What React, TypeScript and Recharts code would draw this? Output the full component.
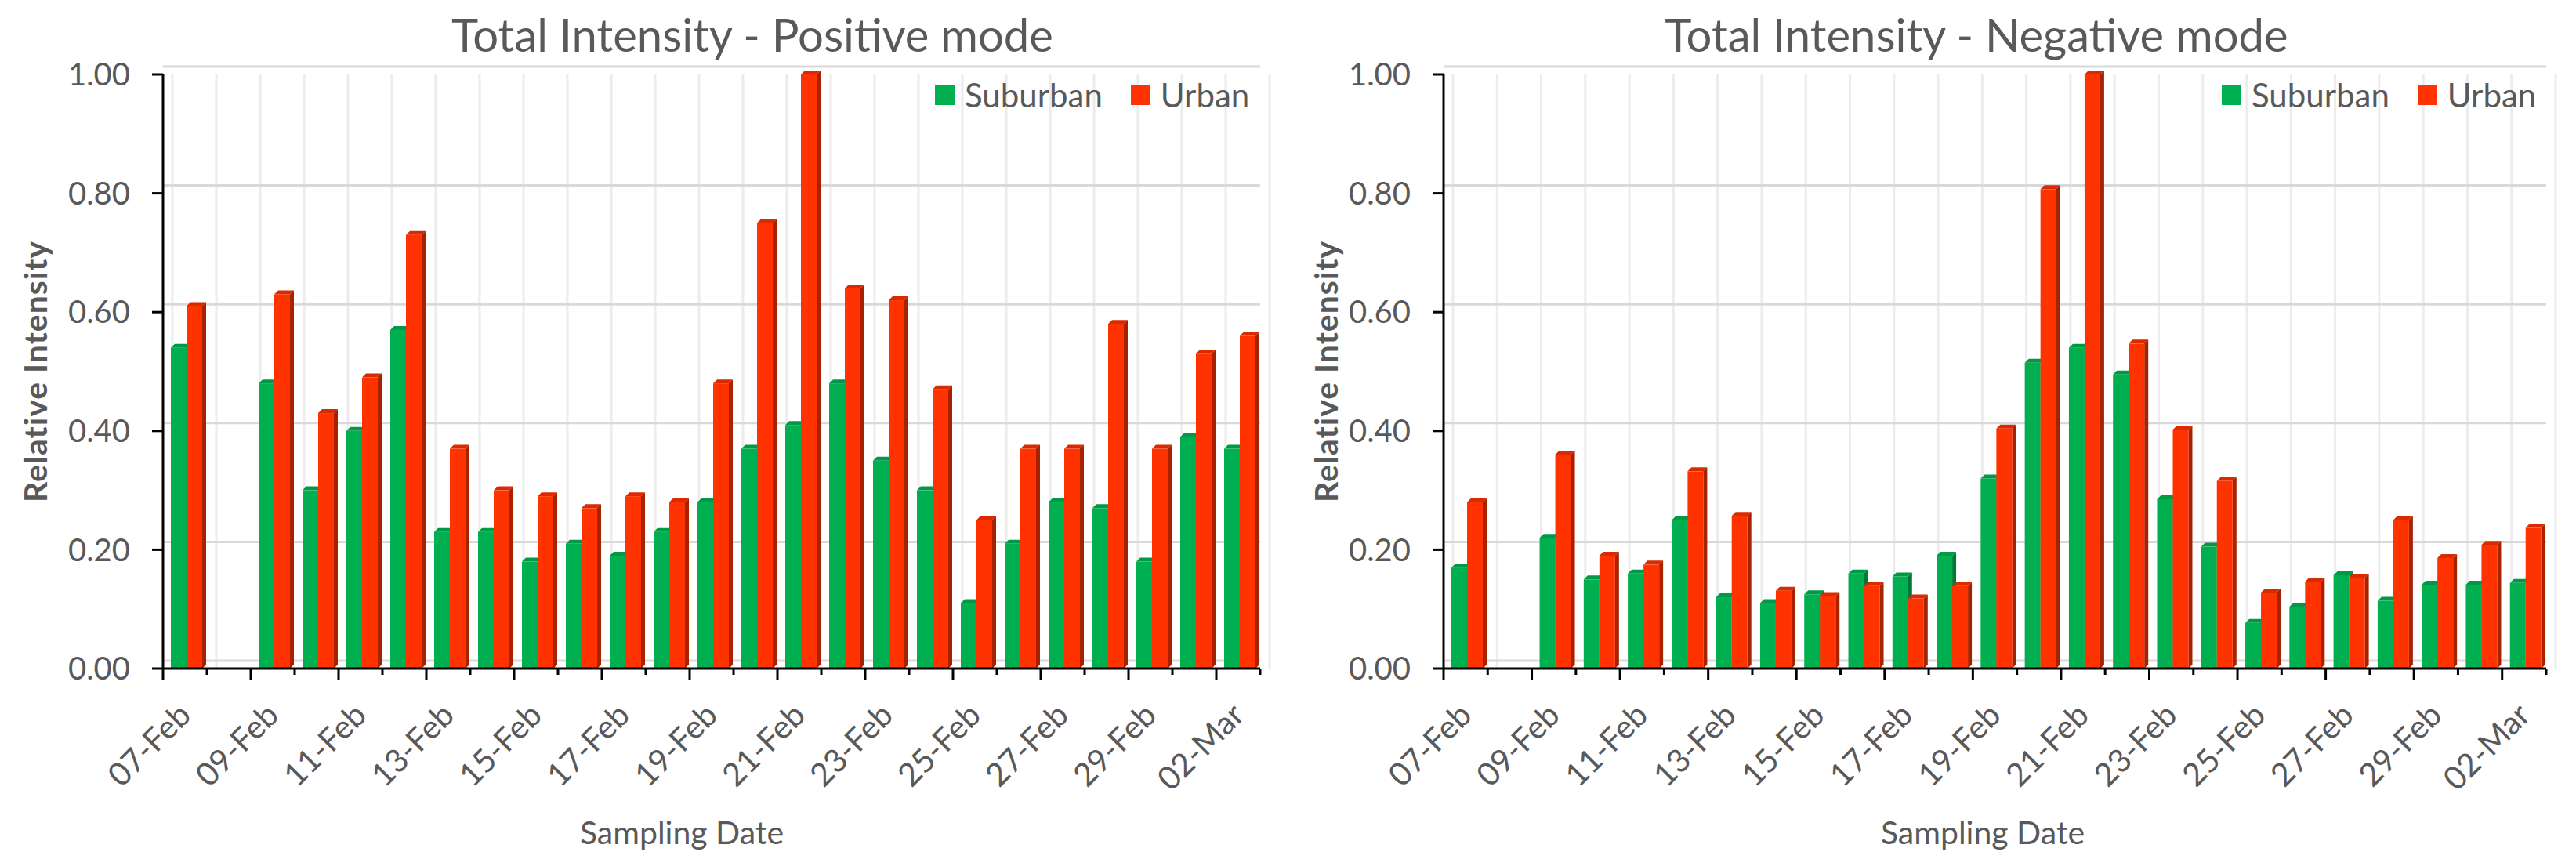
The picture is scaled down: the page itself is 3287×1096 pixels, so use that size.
import React from "react";
import { Bar, BarChart, CartesianGrid, Legend, XAxis, YAxis } from "recharts";

// sampling dates, 07-Feb to 02-Mar (2016, leap year)
const DATES = [
  "07-Feb", "08-Feb", "09-Feb", "10-Feb", "11-Feb", "12-Feb", "13-Feb",
  "14-Feb", "15-Feb", "16-Feb", "17-Feb", "18-Feb", "19-Feb", "20-Feb",
  "21-Feb", "22-Feb", "23-Feb", "24-Feb", "25-Feb", "26-Feb", "27-Feb",
  "28-Feb", "29-Feb", "01-Mar", "02-Mar",
];

const POS_SUBURBAN = [
  0.54, null, 0.48, 0.3, 0.4, 0.57, 0.23, 0.23, 0.18, 0.21, 0.19, 0.23, 0.28,
  0.37, 0.41, 0.48, 0.35, 0.3, 0.11, 0.21, 0.28, 0.27, 0.18, 0.39, 0.37,
];
const POS_URBAN = [
  0.61, null, 0.63, 0.43, 0.49, 0.73, 0.37, 0.3, 0.29, 0.27, 0.29, 0.28, 0.48,
  0.75, 1.0, 0.64, 0.62, 0.47, 0.25, 0.37, 0.37, 0.58, 0.37, 0.53, 0.56,
];
const NEG_SUBURBAN = [
  0.17, null, 0.22, 0.15, 0.16, 0.25, 0.12, 0.11, 0.125, 0.16, 0.155, 0.19,
  0.32, 0.515, 0.54, 0.495, 0.285, 0.205, 0.077, 0.104, 0.157, 0.114, 0.141,
  0.141, 0.144,
];
const NEG_URBAN = [
  0.28, null, 0.36, 0.19, 0.175, 0.332, 0.257, 0.131, 0.122, 0.139, 0.118,
  0.139, 0.404, 0.807, 1.0, 0.547, 0.402, 0.316, 0.128, 0.146, 0.153, 0.25,
  0.186, 0.208, 0.237,
];

const Y_TICKS = [0, 0.2, 0.4, 0.6, 0.8, 1];

const FONT = "Lato, 'Open Sans', sans-serif";
const TEXT = "#595959";
const GREEN = "#00b050";
const GREEN_SIDE = "#007a37";
const GREEN_TOP = "#009945";
const RED = "#ff3300";
const RED_SIDE = "#a82200";
const RED_TOP = "#d92b00";

const H = 1096;
const PLOT_TOP = 95;
const PLOT_BOTTOM = 853;
const Y_AXIS_W = 110;
const X_AXIS_H = 30;
const DEPTH = 5;

function Box3D(props: any) {
  const { x, y, width, height, fill, side, top } = props;
  if (height == null || !(height > 0) || !Number.isFinite(y)) return null;
  const x0 = x + 2;
  const x1 = x0 + width;
  return (
    <g>
      <polygon
        points={`${x0},${y} ${x0 + DEPTH},${y - DEPTH} ${x1 + DEPTH},${y - DEPTH} ${x1},${y}`}
        fill={top}
      />
      <polygon
        points={`${x1},${y} ${x1 + DEPTH},${y - DEPTH} ${x1 + DEPTH},${y + height - DEPTH} ${x1},${y + height}`}
        fill={side}
      />
      <rect x={x0} y={y} width={width} height={height} fill={fill} />
    </g>
  );
}

function DateTick(props: any) {
  const { x, y, payload, band } = props;
  const i = DATES.indexOf(payload.value);
  const left = x - band / 2;
  const tx = x + 10;
  const ty = y + 62;
  return (
    <g>
      <line x1={left} x2={left} y1={y} y2={y + (i % 2 === 0 ? 14 : 8)} stroke="#000" strokeWidth={3} />
      {i === DATES.length - 1 && (
        <line x1={x + band / 2} x2={x + band / 2} y1={y} y2={y + 8} stroke="#000" strokeWidth={3} />
      )}
      {i % 2 === 0 && (
        <text
          x={tx}
          y={ty}
          textAnchor="end"
          transform={`rotate(-45 ${tx} ${ty})`}
          fill={TEXT}
          fontSize={41}
          fontFamily={FONT}
        >
          {payload.value}
        </text>
      )}
    </g>
  );
}

function renderLegend(props: any) {
  const items = props.payload || [];
  return (
    <div style={{ display: "flex", alignItems: "center", fontFamily: FONT, fontSize: 42, lineHeight: 1, color: TEXT }}>
      {items.map((entry: any, k: number) => (
        <div key={entry.value} style={{ display: "flex", alignItems: "center", marginLeft: k === 0 ? 0 : 36 }}>
          <span style={{ display: "inline-block", width: 25, height: 25, background: entry.color, marginRight: 13 }} />
          <span>{entry.value}</span>
        </div>
      ))}
    </div>
  );
}

type ChartProps = {
  title: string;
  suburban: (number | null)[];
  urban: (number | null)[];
  left: number;
  width: number;
  plotLeft: number;
  plotRight: number;
  titleX: number;
  yLabelX: number;
  xLabelX: number;
  legendLeft: number;
};

function IntensityChart(p: ChartProps) {
  const data = DATES.map((date, i) => ({
    date,
    Suburban: p.suburban[i],
    Urban: p.urban[i],
  }));
  const band = (p.plotRight - p.plotLeft) / DATES.length;
  const margin = {
    top: PLOT_TOP,
    bottom: H - PLOT_BOTTOM - X_AXIS_H,
    left: p.plotLeft - p.left - Y_AXIS_W,
    right: p.left + p.width - p.plotRight,
  };
  const midY = (PLOT_TOP + PLOT_BOTTOM) / 2;

  return (
    <div style={{ position: "absolute", left: p.left, top: 0, width: p.width, height: H }}>
      <svg
        width={p.width}
        height={H}
        style={{ position: "absolute", left: 0, top: 0 }}
        fontFamily={FONT}
      >
        <text x={p.titleX - p.left} y={66} textAnchor="middle" fontSize={58} fill={TEXT}>
          {p.title}
        </text>
        <text
          x={p.yLabelX - p.left}
          y={midY}
          textAnchor="middle"
          fontSize={41}
          fontWeight={700}
          letterSpacing={1}
          fill={TEXT}
          transform={`rotate(-90 ${p.yLabelX - p.left} ${midY})`}
        >
          Relative Intensity
        </text>
        <text x={p.xLabelX - p.left} y={1077} textAnchor="middle" fontSize={41} fill={TEXT}>
          Sampling Date
        </text>
      </svg>
      <div style={{ position: "absolute", left: 0, top: 0 }}>
        <BarChart width={p.width} height={H} data={data} margin={margin} barGap={0}>
          <CartesianGrid
            horizontal={false}
            stroke="#ececec"
            strokeWidth={3}
            verticalCoordinatesGenerator={({ offset }: any) =>
              DATES.map((_, k) => offset.left + (k * offset.width) / DATES.length + 12).concat(
                offset.left + offset.width + 12
              )
            }
          />
          <CartesianGrid
            vertical={false}
            stroke="#d9d9d9"
            strokeWidth={3}
            horizontalCoordinatesGenerator={({ offset }: any) =>
              Y_TICKS.map((t) => offset.top + (1 - t) * offset.height - 10)
            }
          />
          <XAxis
            dataKey="date"
            interval={0}
            height={X_AXIS_H}
            tickLine={false}
            tickSize={0}
            tickMargin={0}
            axisLine={{ stroke: "#000", strokeWidth: 3 }}
            tick={(t: any) => <DateTick {...t} band={band} />}
          />
          <YAxis
            domain={[0, 1]}
            ticks={Y_TICKS}
            interval={0}
            width={Y_AXIS_W}
            tickFormatter={(v: number) => v.toFixed(2)}
            axisLine={{ stroke: "#000", strokeWidth: 3 }}
            tickLine={{ stroke: "#000", strokeWidth: 3 }}
            tickSize={14}
            tickMargin={28}
            tick={{ fill: TEXT, fontSize: 40, fontFamily: FONT }}
          />
          <Legend
            layout="horizontal"
            verticalAlign="middle"
            align="center"
            content={renderLegend}
            wrapperStyle={{ top: 100, left: p.legendLeft - p.left, width: "auto", right: "auto", bottom: "auto" }}
          />
          <Bar
            dataKey="Suburban"
            fill={GREEN}
            barSize={20}
            isAnimationActive={false}
            shape={(s: any) => <Box3D {...s} side={GREEN_SIDE} top={GREEN_TOP} />}
          />
          <Bar
            dataKey="Urban"
            fill={RED}
            barSize={20}
            isAnimationActive={false}
            shape={(s: any) => <Box3D {...s} side={RED_SIDE} top={RED_TOP} />}
          />
        </BarChart>
      </div>
    </div>
  );
}

export default function App() {
  return (
    <div style={{ position: "fixed", left: 0, top: 0, width: 3287, height: H, background: "#fff", overflow: "hidden" }}>
      <IntensityChart
        title="Total Intensity - Positive mode"
        suburban={POS_SUBURBAN}
        urban={POS_URBAN}
        left={0}
        width={1640}
        plotLeft={208}
        plotRight={1608}
        titleX={960}
        yLabelX={60}
        xLabelX={870}
        legendLeft={1193}
      />
      <IntensityChart
        title="Total Intensity - Negative mode"
        suburban={NEG_SUBURBAN}
        urban={NEG_URBAN}
        left={1640}
        width={1647}
        plotLeft={1842}
        plotRight={3249}
        titleX={2522}
        yLabelX={1707}
        xLabelX={2530}
        legendLeft={2835}
      />
    </div>
  );
}
